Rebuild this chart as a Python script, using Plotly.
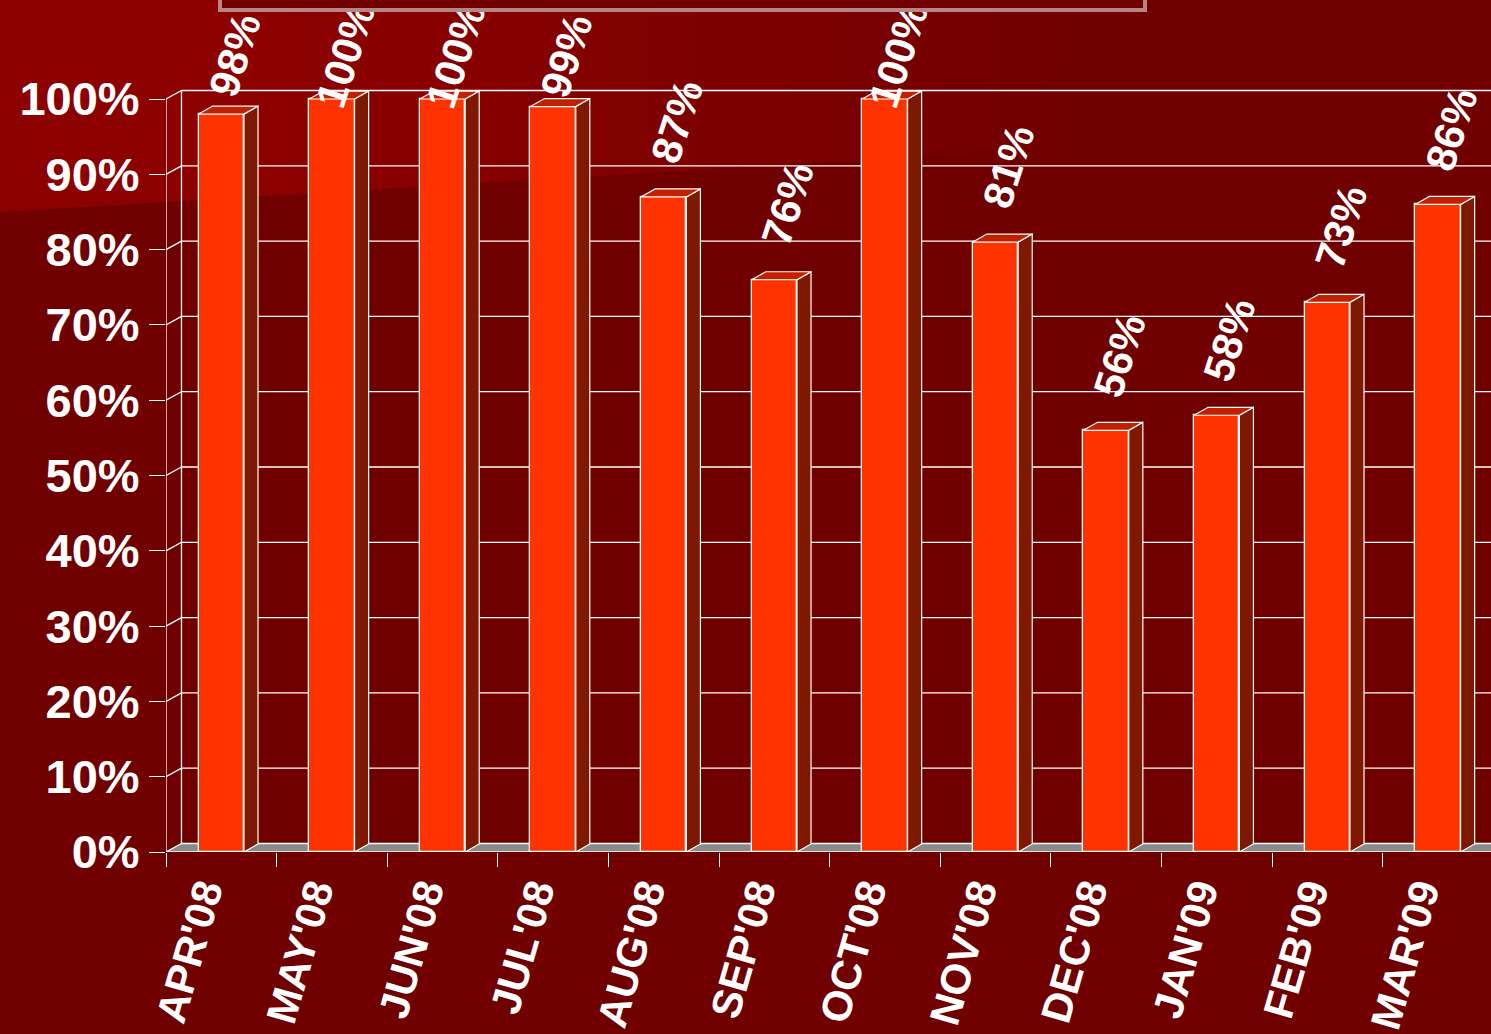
import plotly.graph_objects as go

# ---------------- data ----------------
months = ["APR'08", "MAY'08", "JUN'08", "JUL'08", "AUG'08", "SEP'08",
          "OCT'08", "NOV'08", "DEC'08", "JAN'09", "FEB'09", "MAR'09"]
values = [98, 100, 100, 99, 87, 76, 100, 81, 56, 58, 73, 86]
y_ticks = [0, 10, 20, 30, 40, 50, 60, 70, 80, 90, 100]
y_tick_labels = ["0%", "10%", "20%", "30%", "40%", "50%", "60%", "70%", "80%", "90%", "100%"]

# ---------------- geometry / style ----------------
W, H = 1491, 1034
ML, MR, MT, MB = 166, 0, 0, 182
XMAX = 11.98
YMAX = 113.15
BAR_W = 0.41
DXB, DYB = 0.127, 1.06   # bar depth offsets (data units)
DXW, DYW = 0.14, 1.13    # wall depth offsets
BG = "#700000"
FRONT = "#FF3300"
TOP = "#C22000"
SIDE = "#7E1800"
FLOOR = "#8A8A8A"
WHITE = "white"
FONT = "Liberation Sans, Arial, sans-serif"

fig = go.Figure()

centers = [i + 0.5 for i in range(len(months))]

# front faces
fig.add_trace(go.Bar(
    x=centers, y=values, width=BAR_W, base=0,
    marker=dict(color=FRONT, line=dict(color=WHITE, width=1.3)),
    hoverinfo="skip", showlegend=False))

# top faces and side faces
tx, ty, sx, sy = [], [], [], []
for c, v in zip(centers, values):
    l, r = c - BAR_W / 2, c + BAR_W / 2
    tx += [l, l + DXB, r + DXB, r, l, None]
    ty += [v, v + DYB, v + DYB, v, v, None]
    sx += [r, r + DXB, r + DXB, r, r, None]
    sy += [0, DYB, v + DYB, v, 0, None]
fig.add_trace(go.Scatter(x=sx, y=sy, mode="lines", fill="toself", fillcolor=SIDE,
                         line=dict(color=WHITE, width=1.2), hoverinfo="skip",
                         showlegend=False, cliponaxis=False))
fig.add_trace(go.Scatter(x=tx, y=ty, mode="lines", fill="toself", fillcolor=TOP,
                         line=dict(color=WHITE, width=1.2), hoverinfo="skip",
                         showlegend=False, cliponaxis=False))

shapes = []


def px2paper(px, py):
    return (px - ML) / (W - ML), (H - MB - py) / (H - MB)


# background lighter region (stepped horizontal gradient)
N = 30
for k in range(N):
    x0 = W * k / N
    x1 = W * (k + 1) / N + 1
    xm = (x0 + x1) / 2
    t = min(max((xm - 300) / 800.0, 0.0), 1.0)
    r = int(round(0x8C + (0x70 - 0x8C) * t))
    col = "#%02X0000" % r
    yb0 = 212 - 0.06 * x0
    yb1 = 212 - 0.06 * x1
    p = [px2paper(x0, -5), px2paper(x1, -5), px2paper(x1, yb1), px2paper(x0, yb0)]
    path = "M %f,%f L %f,%f L %f,%f L %f,%f Z" % (p[0] + p[1] + p[2] + p[3])
    shapes.append(dict(type="path", xref="paper", yref="paper", path=path,
                       fillcolor=col, line=dict(width=0), layer="below"))

# floor
shapes.append(dict(type="path", xref="x", yref="y",
                   path="M 0,0 L %f,%f L %f,%f L %f,0 Z" % (DXW, DYW, XMAX, DYW, XMAX),
                   fillcolor=FLOOR, line=dict(width=0), layer="below"))
# gridlines on back wall + side wall diagonals
for v in y_ticks:
    shapes.append(dict(type="line", xref="x", yref="y", x0=0, y0=v, x1=DXW, y1=v + DYW,
                       line=dict(color=WHITE, width=1.3), layer="below"))
    shapes.append(dict(type="line", xref="x", yref="y", x0=DXW, y0=v + DYW, x1=XMAX, y1=v + DYW,
                       line=dict(color=WHITE, width=1.3), layer="below"))
# wall verticals
shapes.append(dict(type="line", xref="x", yref="y", x0=DXW, y0=DYW, x1=DXW, y1=100 + DYW,
                   line=dict(color=WHITE, width=1.3), layer="below"))
shapes.append(dict(type="line", xref="x", yref="y", x0=0, y0=0, x1=0, y1=100,
                   line=dict(color=WHITE, width=1.3), layer="below"))
# front floor edge
shapes.append(dict(type="line", xref="x", yref="y", x0=0, y0=0, x1=XMAX, y1=0,
                   line=dict(color=WHITE, width=1.5), layer="below"))

annotations = []
for c, v in zip(centers, values):
    annotations.append(dict(x=c + 0.12, y=min(v + 10, 105.8), xref="x", yref="y",
                            text="%d%%" % v, showarrow=False, textangle=-72,
                            font=dict(family=FONT, size=42, color=WHITE, weight="bold")))
# title box (cut off at top), drawn over the labels
bx0, by1 = px2paper(218, 12)
annotations.append(dict(x=bx0, y=by1, xref="paper", yref="paper", xanchor="left",
                        yanchor="bottom", text=" ", showarrow=False, width=921, height=40,
                        bgcolor=BG, bordercolor="#B88484", borderwidth=4, borderpad=0))

fig.update_layout(
    width=W, height=H, margin=dict(l=ML, r=MR, t=MT, b=MB),
    paper_bgcolor=BG, plot_bgcolor="rgba(0,0,0,0)",
    shapes=shapes, annotations=annotations, showlegend=False,
    font=dict(family=FONT, color=WHITE),
    xaxis=dict(range=[0, XMAX], tickmode="array", tickvals=centers, ticktext=months,
               tickangle=-74, ticks="", showgrid=False, zeroline=False, showline=False,
               ticklabelshift=-18, ticklabelstandoff=6,
               tickfont=dict(family=FONT, size=42, color=WHITE, weight="bold"),
               minor=dict(tickmode="array", tickvals=list(range(13)), ticks="outside",
                          ticklen=14, tickcolor=WHITE, tickwidth=1.3, showgrid=False),
               fixedrange=True),
    yaxis=dict(range=[0, YMAX], tickmode="array", tickvals=y_ticks, ticktext=y_tick_labels,
               ticks="outside", ticklen=16, tickcolor=WHITE, tickwidth=1.3,
               showgrid=False, zeroline=False, showline=False,
               tickfont=dict(family=FONT, size=47, color=WHITE, weight="bold"),
               fixedrange=True),
    bargap=0,
)

fig.write_html("out.html", config=dict(displayModeBar=False),
               post_script="document.body.style.margin='0';document.body.style.overflow='hidden';")
